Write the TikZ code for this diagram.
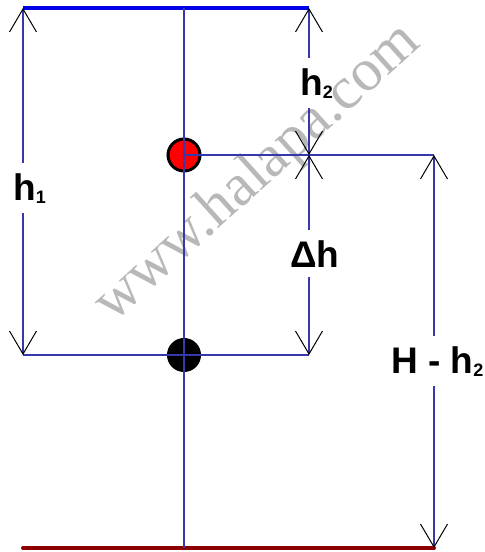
\documentclass[tikz,border=0pt]{standalone}
\usepackage{fontspec}
\setmainfont{Liberation Sans}
\newfontfamily\wmfont{Liberation Serif}
\usepackage{tikz}
\usetikzlibrary{arrows.meta}
\usepackage{xcolor}
\definecolor{linec}{HTML}{3838AE}
\definecolor{topc}{HTML}{0000E6}
\definecolor{groundc}{HTML}{8B0000}
\definecolor{markc}{HTML}{B8B8B8}
\tikzset{
  barb/.tip={Straight Barb[length=23pt,width=27pt,color=black,line width=1pt]},
  guide/.style={draw=linec, line width=1.2pt},
  lbl/.style={anchor=base west, inner xsep=0pt, inner ysep=10pt, font=\fontsize{37}{37}\selectfont\bfseries},
  ball/.style={circle, draw=black, line width=3pt, minimum size=32pt, inner sep=0pt},
}
\newcommand{\sub}[1]{\raisebox{-3pt}{\fontsize{18}{18}\selectfont #1}}

\begin{document}
\begin{tikzpicture}[x=1pt, y=-1pt]
\useasboundingbox (0,0) rectangle (485,552);
\node[text=markc, rotate=42, font=\wmfont\fontsize{60}{60}\selectfont] (mark) at (258,174) {www.halapa.com};
\coordinate (tl) at (23,8);
\coordinate (tc) at (184,8);
\coordinate (tr) at (309,8);
\coordinate (r2) at (309,155);
\coordinate (rr) at (434,155);
\coordinate (bl) at (23,355);
\coordinate (br) at (309,355);
\coordinate (gl) at (23,548);
\coordinate (gc) at (184,548);
\coordinate (gr) at (434,548);
\node[ball, fill=red] (top) at (184,155) {};
\node[ball, fill=black, minimum size=31pt] (low) at (184,355) {};
\draw[draw=topc, line width=3.5pt] (tl) -- (tr);
\draw[draw=groundc, line width=4pt, line cap=round] (gl) -- (gr);
\draw[guide] (tc) -- (gc);
\draw[guide] (top.center) -- (rr);
\draw[guide] (bl) -- (br);
\node[lbl] (lh1) at (13,200) {h\sub{1}};
\node[lbl] (lh2) at (300,95) {h\sub{2}};
\node[lbl] (ldh) at (290,267) {Δh};
\node[lbl] (lHh) at (391,373) {H - h\sub{2}};
\draw[guide, barb-] (tl) -- (tl |- lh1.north);
\draw[guide, -barb] (tl |- lh1.south) -- (bl);
\draw[guide, barb-] (tr) -- (tr |- lh2.north);
\draw[guide, -barb] (tr |- lh2.south) -- (r2);
\draw[guide, barb-] (r2) -- (r2 |- ldh.north);
\draw[guide, -barb] (r2 |- ldh.south) -- (br);
\draw[guide, barb-] (rr) -- (rr |- lHh.north);
\draw[guide, -barb] (rr |- lHh.south) -- (gr);
\end{tikzpicture}
\end{document}
